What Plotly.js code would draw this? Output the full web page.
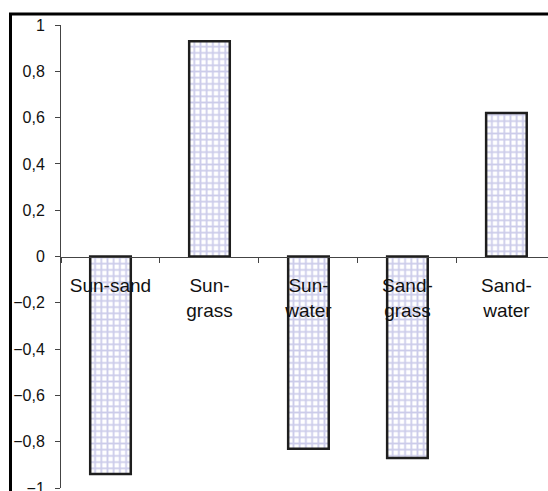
<!DOCTYPE html>
<html>
<head>
<meta charset="utf-8">
<script src="https://cdn.plot.ly/plotly-3.0.1.min.js"></script>
<style>html,body{margin:0;padding:0;background:#fff;}#chart{width:548px;height:491px;}</style>
</head>
<body>
<div id="chart"></div>
<script>
const categories = ["Sun-sand", "Sun-grass", "Sun-water", "Sand-grass", "Sand-water"];
const tickLabels = ["Sun-sand", "Sun-<br>grass", "Sun-<br>water", "Sand-<br>grass", "Sand-<br>water"];
const values = [-0.94, 0.93, -0.83, -0.87, 0.62];
const yTicks = [-1, -0.8, -0.6, -0.4, -0.2, 0, 0.2, 0.4, 0.6, 0.8, 1];

const trace = {
  type: 'bar',
  x: categories,
  y: values,
  width: 0.41,
  marker: {
    color: '#ffffff',
    line: {color: '#1e1e1e', width: 2.5},
    pattern: {shape: '+', fgcolor: '#9a9ad6', bgcolor: '#ffffff', size: 6.2, solidity: 0.5, fillmode: 'overlay'}
  },
  hoverinfo: 'none'
};

const layout = {
  width: 548, height: 491,
  margin: {l: 61, r: 0, t: 25, b: 3, pad: 0},
  paper_bgcolor: '#ffffff',
  plot_bgcolor: 'rgba(0,0,0,0)',
  separators: ', ',
  showlegend: false,
  font: {family: 'Liberation Sans, Arial, sans-serif', color: '#111', size: 16},
  xaxis: {
    type: 'category',
    range: [-0.5, 4.42],
    anchor: 'free', position: 0.5,
    showline: true, linecolor: '#444', linewidth: 1,
    showgrid: false, zeroline: false,
    ticks: 'outside', ticklen: 5, tickcolor: '#444', tickwidth: 1,
    tickson: 'boundaries',
    tickvals: categories, ticktext: tickLabels,
    tickfont: {size: 19, color: '#111'},
    ticklabelstandoff: 12,
    ticklabeloverflow: 'allow',
    layer: 'above traces'
  },
  yaxis: {
    range: [-1, 1],
    tickvals: yTicks,
    ticktext: yTicks.map(v => (v < 0 ? '\u2212' : '') + String(Math.abs(v)).replace('.', ',')),
    showline: true, linecolor: '#444', linewidth: 1,
    showgrid: false, zeroline: false,
    ticks: 'outside', ticklen: 5, tickcolor: '#444', tickwidth: 1,
    tickfont: {size: 16, color: '#111'},
    ticklabelstandoff: 7,
    ticklabeloverflow: 'allow'
  },
  shapes: [{
    type: 'path', xref: 'paper', yref: 'paper',
    path: 'M -0.1037,-0.1 L -0.1037,1.0238 L 1.1,1.0238',
    line: {color: '#000', width: 3},
    layer: 'below'
  }]
};

Plotly.newPlot('chart', [trace], layout, {staticPlot: true, displayModeBar: false});
</script>
</body>
</html>
